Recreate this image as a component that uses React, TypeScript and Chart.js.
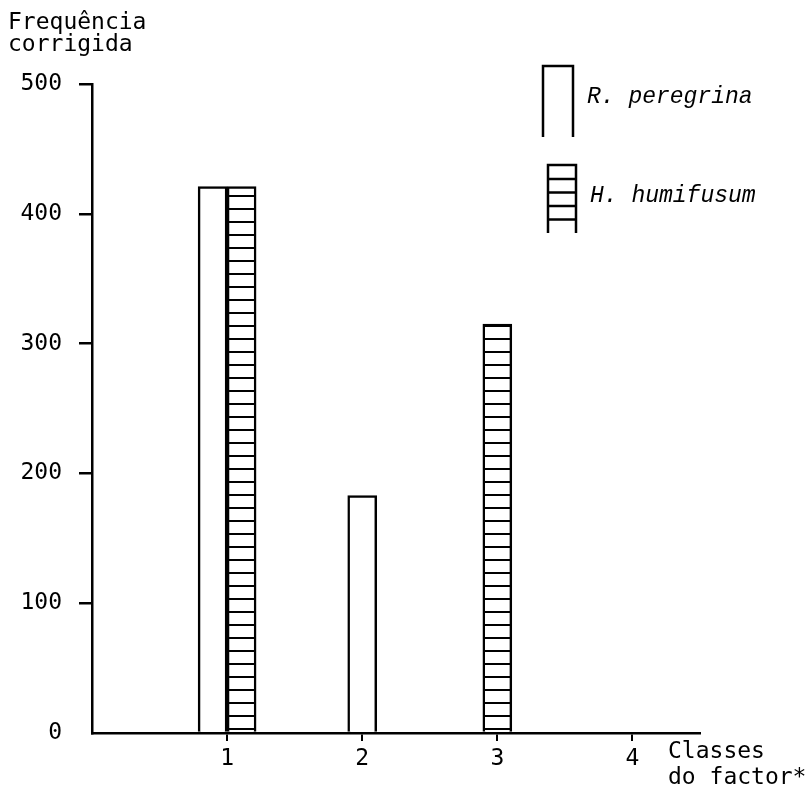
import React, { useEffect, useRef } from "react";
import { Chart, registerables } from "chart.js";

Chart.register(...registerables);

const categories = [1, 2, 3, 4];
const peregrinaValues: (number | null)[] = [421, 183, null, null];
const humifusumValues: (number | null)[] = [421, null, 315, null];
const yTicks = [0, 100, 200, 300, 400, 500];
const seriesNames = ["R. peregrina", "H. humifusum"];
const yTitle = ["Frequência", "corrigida"];
const xTitle = ["Classes", "do factor*"];

const MONO = '"DejaVu Sans Mono", monospace';

function makeHatch(): CanvasPattern | string {
  const c = document.createElement("canvas");
  c.width = 8;
  c.height = 13;
  const g = c.getContext("2d");
  if (!g) return "#fff";
  g.fillStyle = "#fff";
  g.fillRect(0, 0, 8, 13);
  g.fillStyle = "#000";
  g.fillRect(0, 0, 8, 2);
  const p = g.createPattern(c, "repeat");
  return p || "#fff";
}

const textPlugin = {
  id: "textPlugin",
  afterDraw(chart: any) {
    const ctx = chart.ctx as CanvasRenderingContext2D;
    const a = chart.chartArea;
    ctx.save();
    ctx.fillStyle = "#000";
    ctx.strokeStyle = "#000";
    ctx.textBaseline = "alphabetic";
    ctx.textAlign = "left";
    ctx.font = `23px ${MONO}`;
    ctx.fillText(yTitle[0], 8, 29);
    ctx.fillText(yTitle[1], 8, 51);
    ctx.fillText(xTitle[0], a.right - 32, 758);
    ctx.fillText(xTitle[1], a.right - 32, 784);

    // legend
    ctx.lineWidth = 2.5;
    const rx = a.right - 157;
    ctx.beginPath();
    ctx.moveTo(rx, 137);
    ctx.lineTo(rx, 66);
    ctx.lineTo(rx + 30, 66);
    ctx.lineTo(rx + 30, 137);
    ctx.stroke();
    const hx = a.right - 152;
    ctx.beginPath();
    ctx.moveTo(hx, 233);
    ctx.lineTo(hx, 165);
    ctx.lineTo(hx + 28, 165);
    ctx.lineTo(hx + 28, 233);
    for (let y = 179; y < 225; y += 13.5) {
      ctx.moveTo(hx, y);
      ctx.lineTo(hx + 28, y);
    }
    ctx.stroke();
    ctx.font = `italic 23px "Liberation Mono", monospace`;
    ctx.fillText(seriesNames[0], rx + 44, 103);
    ctx.fillText(seriesNames[1], hx + 42, 202);
    ctx.restore();
  },
};

export default function App() {
  const ref = useRef<HTMLCanvasElement>(null);
  useEffect(() => {
    if (!ref.current) return;
    const hatch = makeHatch();
    const chart = new Chart(ref.current, {
      type: "bar",
      data: {
        datasets: [
          {
            label: seriesNames[0],
            data: categories.map((c, i) => ({ x: c, y: peregrinaValues[i] })) as any,
            backgroundColor: "#fff",
            borderColor: "#000",
            borderWidth: 2.5,
            borderSkipped: "bottom",
          },
          {
            label: seriesNames[1],
            data: categories.map((c, i) => ({ x: c, y: humifusumValues[i] })) as any,
            backgroundColor: hatch as any,
            borderColor: "#000",
            borderWidth: 2.5,
            borderSkipped: "bottom",
          },
        ],
      },
      options: {
        responsive: false,
        animation: false,
        devicePixelRatio: 1,
        skipNull: true,
        barThickness: 29,
        layout: { padding: { top: 84, right: 110, left: 0, bottom: 0 } },
        plugins: {
          legend: { display: false },
          tooltip: { enabled: false },
          title: { display: false },
        },
        scales: {
          x: {
            type: "linear",
            offset: false,
            min: 0,
            max: 4.5,
            ticks: {
              stepSize: 1,
              color: "#000",
              font: { family: MONO, size: 23 },
              padding: 4,
              maxRotation: 0,
            },
            afterBuildTicks: (s: any) => {
              s.ticks = s.ticks.filter((t: any) => categories.includes(t.value));
            },
            afterFit: (s: any) => {
              s.height = 54;
            },
            grid: {
              offset: false,
              drawOnChartArea: false,
              drawTicks: true,
              tickLength: 8,
              color: "#000",
              lineWidth: 2,
            },
            border: { display: true, color: "#000", width: 2.5 },
          },
          y: {
            type: "linear",
            min: 0,
            max: 500,
            afterBuildTicks: (s: any) => {
              s.ticks = yTicks.map((v) => ({ value: v }));
            },
            ticks: {
              color: "#000",
              font: { family: MONO, size: 23 },
              padding: 17,
            },
            afterFit: (s: any) => {
              s.width = 92;
            },
            grid: {
              drawOnChartArea: false,
              drawTicks: true,
              tickLength: 13,
              color: (c: any) => (c.tick && c.tick.value === 0 ? "rgba(0,0,0,0)" : "#000"),
              lineWidth: 2.5,
            },
            border: { display: true, color: "#000", width: 2.5 },
          },
        },
      } as any,
      plugins: [textPlugin],
    });
    return () => chart.destroy();
  }, []);
  return (
    <div style={{ position: "fixed", left: 0, top: 0, width: 810, height: 787, background: "#fff" }}>
      <canvas ref={ref} width={810} height={787} style={{ display: "block" }} />
    </div>
  );
}
